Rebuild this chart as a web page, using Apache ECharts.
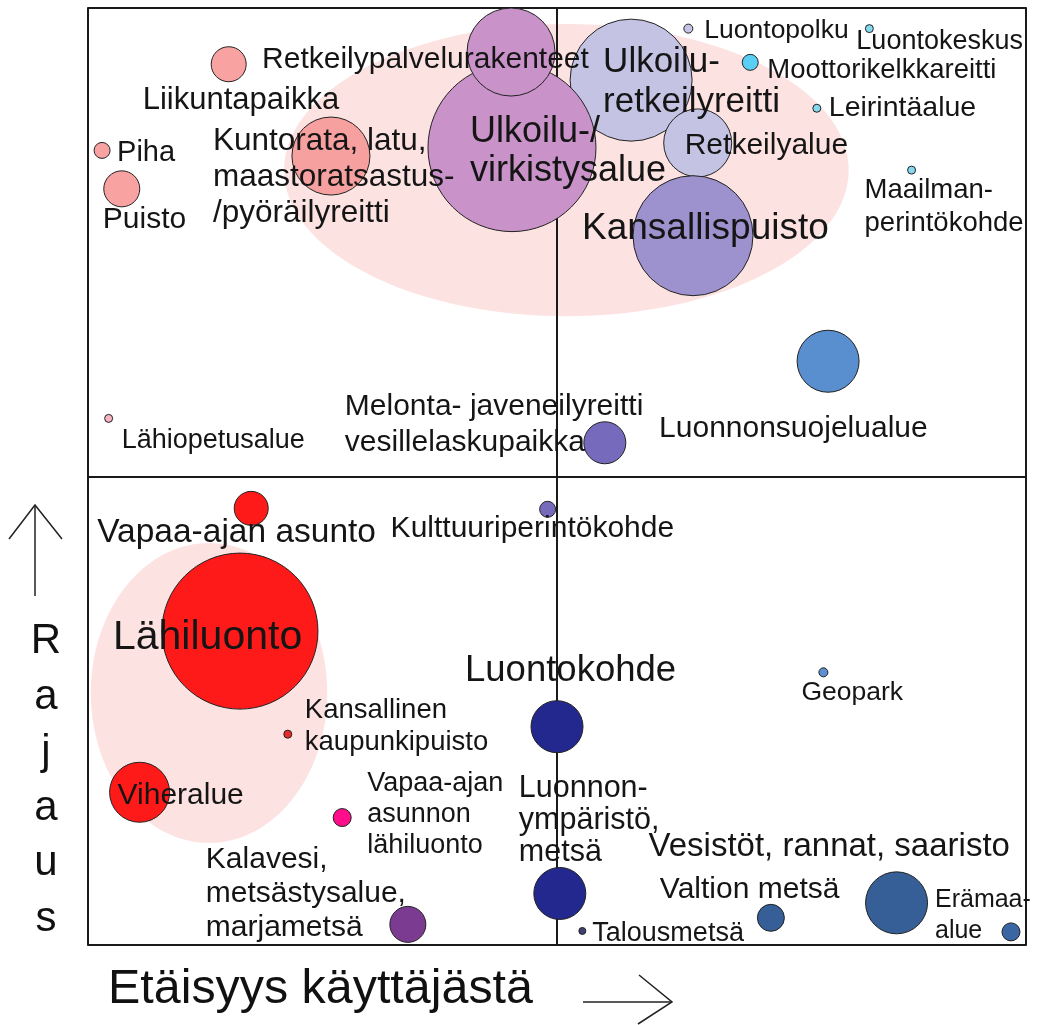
<!DOCTYPE html>
<html>
<head>
<meta charset="utf-8">
<script src="https://cdn.jsdelivr.net/npm/echarts@6/dist/echarts.min.js"></script>
<style>
  html, body { margin: 0; padding: 0; background: #fff; }
  #chart { width: 1043px; height: 1025px; }
</style>
</head>
<body>
<div id="chart"></div>
<script>
// Etäisyys käyttäjästä (x) ja rajaus (y), asteikko 0..100, keskiviivat 50:ssä
const names = [
  'Ulkoilu-\nretkeilyreitti', 'Ulkoilu-/\nvirkistysalue', 'Retkeilypalvelurakenteet', 'Retkeilyalue',
  'Kansallispuisto', 'Liikuntapaikka', 'Piha', 'Puisto',
  'Kuntorata, latu,\nmaastoratsastus-\n/pyöräilyreitti', 'Luontopolku', 'Luontokeskus', 'Moottorikelkkareitti',
  'Leirintäalue', 'Maailman-\nperintökohde', 'Luonnonsuojelualue', 'Lähiopetusalue',
  'Melonta- javeneilyreitti\nvesillelaskupaikka', 'Kulttuuriperintökohde', 'Vapaa-ajan asunto', 'Lähiluonto',
  'Kansallinen\nkaupunkipuisto', 'Viheralue', 'Vapaa-ajan\nasunnon\nlähiluonto', 'Kalavesi,\nmetsästysalue,\nmarjametsä',
  'Luontokohde', 'Luonnon-\nympäristö,\nmetsä', 'Talousmetsä', 'Valtion metsä',
  'Vesistöt, rannat, saaristo', 'Erämaa-\nalue', 'Geopark'
]
const distance = [
  57.9, 45.2, 45.1, 65.0, 64.5, 15.0, 1.5, 3.6,
  25.9, 64.0, 83.3, 70.6, 77.7, 87.8, 78.9, 2.2,
  55.1, 49.0, 17.4, 16.2, 21.3, 5.5, 27.1, 34.1,
  50.0, 50.3, 52.7, 72.8, 86.2, 98.4, 78.4
]
const rajaus = [
  92.3, 85.1, 95.3, 85.6, 75.7, 94.0, 84.8, 80.7,
  84.2, 97.8, 97.8, 94.2, 89.3, 82.7, 62.3, 56.2,
  53.6, 46.5, 46.6, 33.5, 22.5, 16.3, 13.6, 2.2,
  23.3, 5.5, 1.5, 2.9, 4.5, 1.4, 29.1
]
const koko = [
  61, 84, 44, 34, 60, 17.5, 8, 18,
  39, 4.5, 4, 8, 4, 4, 31, 4,
  21, 8, 17, 78, 4, 30, 9, 18,
  26, 26, 3.5, 13.5, 31, 9, 4.5
]

// vaaleanpunaiset ryhmäalueet: keskipiste ja säteet asteikon yksiköissä
const areaX = [51.0, 12.9]
const areaY = [82.7, 26.9]
const areaRx = [30.1, 12.6]
const areaRy = [15.6, 16.0]

const bubbleColors = [
  '#c4c3e3', '#c993c9', '#c993c9', '#c4c3e3', '#9d92ce', '#f9a2a2', '#f9a2a2', '#f9a2a2',
  '#f6a0a0', '#c4c3e3', '#86d8ef', '#58cff3', '#86d8ef', '#86d8ef', '#5a8fcf', '#f9b4c4',
  '#766abd', '#766abd', '#ff1a1a', '#ff1a1a', '#e52b2b', '#ff1a1a', '#ff0d8a', '#7a3b91',
  '#23288e', '#23288e', '#3f4070', '#365f97', '#365f97', '#3a66a3', '#5e8fd0'
]

// label offset from bubble centre [dx, dy], font size, line height
const labelLayout = [
  [-28, 2, 35, 40], [-42, 4, 36, 39], [-249, 8, 30, 34], [-13, 3, 30, 34],
  [-111, -7, 37, 40], [-86, 36, 31, 34], [15, 3, 29, 32], [-19, 31, 30, 32],
  [-118, 21, 31.5, 36], [16, 2, 26.5, 28], [-13, 13, 27, 28], [17, 8, 27.5, 28],
  [12, 0, 28.5, 28], [-47, 37, 27.5, 33], [-169, 67, 30, 32], [13, 22, 27, 28],
  [-260, -18, 30, 36], [-157, 19, 30, 30], [-154, 24, 33.5, 34], [-127, 7, 41, 44],
  [17, -8, 27.5, 32], [-22, 3, 30, 32], [25, -3, 27, 31], [-202, -31, 30, 34],
  [-92, -56, 36.5, 38], [-41, -73, 30.5, 32], [10, 3, 27, 28], [-111, -28, 30, 32],
  [-248, -56, 33, 34], [-76, -16, 25, 31], [-22, 20, 26.5, 28]
]

const FONT = '"Liberation Sans", Arial, sans-serif'

const bubbleData = names.map((name, i) => ({
  name,
  value: [distance[i], rajaus[i], koko[i]],
  itemStyle: { color: bubbleColors[i] }
}))

const labelData = names.map((name, i) => ({
  name,
  value: [distance[i], rajaus[i]],
  label: {
    offset: [labelLayout[i][0], labelLayout[i][1]],
    fontSize: labelLayout[i][2],
    lineHeight: labelLayout[i][3]
  }
}))

const areaData = areaX.map((x, i) => [x, areaY[i], areaRx[i], areaRy[i]])

const axisBase = {
  type: 'value',
  min: 0,
  max: 100,
  interval: 50,
  z: 1.5,
  axisLine: { show: false },
  axisTick: { show: false },
  axisLabel: { show: false },
  splitLine: { show: true, lineStyle: { color: '#1a1a1a', width: 2 } }
}

const option = {
  backgroundColor: '#fff',
  animation: false,
  grid: {
    left: 88,
    top: 8,
    width: 938,
    height: 937,
    show: true,
    borderColor: '#4a4a4a',
    borderWidth: 2
  },
  xAxis: { ...axisBase },
  yAxis: { ...axisBase },
  series: [
    {
      type: 'custom',
      z: 1,
      silent: true,
      clip: false,
      encode: { x: 0, y: 1 },
      data: areaData,
      renderItem: (params, api) => {
        const c = api.coord([api.value(0), api.value(1)])
        const s = api.size([api.value(2), api.value(3)])
        return {
          type: 'ellipse',
          shape: { cx: c[0], cy: c[1], rx: s[0], ry: s[1] },
          style: { fill: '#fde2e2' }
        }
      }
    },
    {
      type: 'scatter',
      z: 10,
      clip: false,
      silent: true,
      data: bubbleData,
      symbolSize: (v) => v[2] * 2,
      itemStyle: { borderColor: '#222', borderWidth: 1, opacity: 1 }
    },
    {
      type: 'scatter',
      z: 12,
      clip: false,
      silent: true,
      data: labelData,
      symbolSize: 1,
      itemStyle: { color: 'rgba(0,0,0,0)', borderWidth: 0 },
      label: {
        show: true,
        position: 'inside',
        formatter: (p) => p.name,
        align: 'left',
        verticalAlign: 'middle',
        color: '#151515',
        opacity: 1,
        fontFamily: FONT
      }
    }
  ],
  graphic: [
    {
      type: 'text',
      x: 108,
      y: 990,
      style: {
        text: 'Etäisyys käyttäjästä',
        font: '48.4px ' + FONT,
        fill: '#111',
        align: 'left',
        verticalAlign: 'middle',
        textAlign: 'left',
        textVerticalAlign: 'middle'
      }
    },
    {
      type: 'text',
      x: 46,
      y: 614,
      style: {
        text: 'R\na\nj\na\nu\ns',
        font: '42px ' + FONT,
        lineHeight: 55.5,
        fill: '#111',
        align: 'center',
        verticalAlign: 'top',
        textAlign: 'center',
        textVerticalAlign: 'top'
      }
    },
    {
      type: 'polyline',
      shape: { points: [[35, 596], [35, 505]] },
      style: { stroke: '#222', lineWidth: 1.5, fill: null }
    },
    {
      type: 'polyline',
      shape: { points: [[9, 539], [35, 505], [62, 539]] },
      style: { stroke: '#222', lineWidth: 1.5, fill: null }
    },
    {
      type: 'polyline',
      shape: { points: [[583, 1002], [672, 1002]] },
      style: { stroke: '#222', lineWidth: 1.5, fill: null }
    },
    {
      type: 'polyline',
      shape: { points: [[639, 975], [672, 1002], [638, 1024]] },
      style: { stroke: '#222', lineWidth: 1.5, fill: null }
    }
  ]
}

const chart = echarts.init(document.getElementById('chart'))
chart.setOption(option)
</script>
</body>
</html>
